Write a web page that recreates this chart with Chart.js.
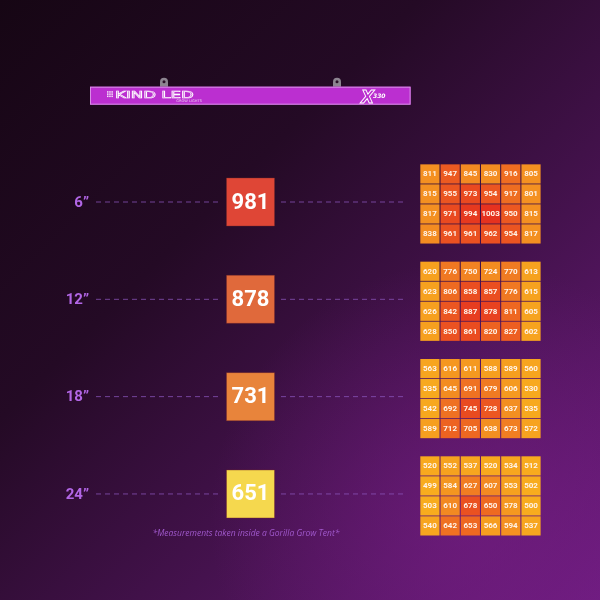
<!DOCTYPE html>
<html>
<head>
<meta charset="utf-8">
<script src="https://cdn.jsdelivr.net/npm/chart.js@4.4.1/dist/chart.umd.min.js"></script>
<style>
  html, body { margin: 0; padding: 0; background: #1a0818; }
  #wrap { width: 600px; height: 600px; }
</style>
</head>
<body>
<div id="wrap"><canvas id="chart" width="600" height="600"></canvas></div>
<script>
// hanging heights (inches) and the average PPFD at each
const depths = [6, 12, 18, 24];
const averages = [981, 878, 731, 651];
const depthLabels = ['6”', '12”', '18”', '24”'];

// 4 x 6 PPFD maps, one per height
const grid6 = [
  [811, 947, 845, 830, 916, 805],
  [815, 955, 973, 954, 917, 801],
  [817, 971, 994, 1003, 950, 815],
  [838, 961, 961, 962, 954, 817]
];
const grid12 = [
  [620, 776, 750, 724, 770, 613],
  [623, 806, 858, 857, 776, 615],
  [626, 842, 887, 878, 811, 605],
  [628, 850, 861, 820, 827, 602]
];
const grid18 = [
  [563, 616, 611, 588, 589, 560],
  [535, 645, 691, 679, 606, 530],
  [542, 692, 745, 728, 637, 535],
  [589, 712, 705, 638, 673, 572]
];
const grid24 = [
  [520, 552, 537, 520, 534, 512],
  [499, 584, 627, 607, 553, 502],
  [503, 610, 678, 650, 578, 500],
  [540, 642, 653, 566, 594, 537]
];
const grids = [grid6, grid12, grid18, grid24];

const footnote = '*Measurements taken inside a Gorilla Grow Tent*';

// layout
const pxPerInch = 16.22;
const gridLeft = 419.8;
const colPitch = 20.22;
const rowPitch = 20 / pxPerInch;
const cellSide = 19.2;
const boxX = 250.5;
const boxSide = 48;
const boxColors = ['#df4636', '#e0693b', '#e8843b', '#f5d84e'];

function mix(a, b, t) {
  const pa = a.match(/\w\w/g).map(h => parseInt(h, 16));
  const pb = b.match(/\w\w/g).map(h => parseInt(h, 16));
  return 'rgb(' + pa.map((v, i) => Math.round(v + (pb[i] - v) * t)).join(',') + ')';
}
function heat(t) {
  const stops = ['f8ac1e', 'f28722', 'ec5a21', 'e5321f'];
  const s = Math.min(Math.max(t, 0), 1) * 3;
  const i = Math.min(Math.floor(s), 2);
  return mix(stops[i], stops[i + 1], s - i);
}

const cells = [];
const cellColors = [];
grids.forEach((g, gi) => {
  const flat = g.flat();
  const lo = Math.min(...flat), hi = Math.max(...flat);
  g.forEach((row, r) => {
    row.forEach((v, c) => {
      cells.push({ x: gridLeft + (c + 0.5) * colPitch, y: depths[gi] + 0.12 + (r - 1.5) * rowPitch, v: v });
      const local = (v - lo) / (hi - lo);
      const global = (v - 500) / (1003 - 500);
      cellColors.push(heat(0.6 * local * local + 0.4 * global));
    });
  });
});

const lineSets = depths.map(d => ({
  type: 'line',
  data: [{ x: 96, y: d }, { x: 222, y: d }, { x: 250, y: null }, { x: 281, y: d }, { x: 407, y: d }],
  borderColor: 'rgba(140, 85, 190, 0.75)',
  borderWidth: 1,
  borderDash: [5, 4],
  pointRadius: 0,
  spanGaps: false
}));

const bgPlugin = {
  id: 'bg',
  beforeDraw(chart) {
    const ctx = chart.ctx;
    const g = ctx.createLinearGradient(0, 0, 600, 600);
    g.addColorStop(0, '#160614');
    g.addColorStop(0.35, '#240a25');
    g.addColorStop(0.65, '#45124e');
    g.addColorStop(1, '#6e1c80');
    ctx.save();
    ctx.fillStyle = g;
    ctx.fillRect(0, 0, chart.width, chart.height);
    const r = ctx.createRadialGradient(470, 520, 10, 470, 520, 260);
    r.addColorStop(0, 'rgba(120,30,135,0.55)');
    r.addColorStop(1, 'rgba(120,30,135,0)');
    ctx.fillStyle = r;
    ctx.fillRect(0, 0, chart.width, chart.height);
    ctx.restore();
  }
};

const lightPlugin = {
  id: 'light',
  afterDraw(chart) {
    const ctx = chart.ctx;
    const x = chart.scales.x, y = chart.scales.y;
    const left = x.getPixelForValue(90), right = x.getPixelForValue(410.6);
    const bottom = y.getPixelForValue(0), top = bottom - 18;
    ctx.save();
    // hooks
    [164, 337].forEach(hx => {
      const px = x.getPixelForValue(hx);
      ctx.fillStyle = '#8c8490';
      ctx.beginPath();
      ctx.moveTo(px - 4, top);
      ctx.lineTo(px - 4, top - 5);
      ctx.arc(px, top - 5, 4, Math.PI, 0);
      ctx.lineTo(px + 4, top);
      ctx.closePath();
      ctx.fill();
      ctx.fillStyle = '#2a1028';
      ctx.beginPath();
      ctx.arc(px, top - 5, 1.5, 0, Math.PI * 2);
      ctx.fill();
    });
    ctx.fillStyle = '#bb2fd0';
    ctx.fillRect(left, top, right - left, bottom - top);
    ctx.strokeStyle = '#d88ee6';
    ctx.lineWidth = 1;
    ctx.strokeRect(left + 0.5, top + 0.5, right - left - 1, bottom - top - 1);
    // logo
    ctx.fillStyle = '#f6e6fa';
    for (let i = 0; i < 3; i++) for (let j = 0; j < 3; j++) {
      ctx.fillRect(left + 17 + i * 2.2, top + 4.5 + j * 2.2, 1.5, 1.5);
    }
    ctx.save();
    ctx.translate(left + 25, top + 11.5);
    ctx.scale(1.75, 1);
    ctx.font = '9.5px "DejaVu Sans"';
    ctx.textBaseline = 'alphabetic';
    ctx.strokeStyle = '#ffffff';
    ctx.lineWidth = 0.6;
    ctx.strokeText('KIND LED', 0, 0);
    ctx.restore();
    ctx.font = '3.6px "DejaVu Sans"';
    ctx.fillStyle = '#e8c8f0';
    ctx.textAlign = 'right';
    ctx.fillText('GROW LIGHTS', left + 112, top + 15);
    ctx.font = 'italic bold 17px "DejaVu Sans"';
    ctx.textAlign = 'left';
    ctx.strokeStyle = '#ffffff';
    ctx.lineWidth = 0.9;
    ctx.strokeText('X', left + 271, top + 16);
    ctx.font = 'italic bold 6px "DejaVu Sans"';
    ctx.fillStyle = '#ffffff';
    ctx.fillText('330', left + 283, top + 11);
    ctx.restore();
  }
};

const textPlugin = {
  id: 'texts',
  afterDatasetsDraw(chart) {
    const ctx = chart.ctx;
    const x = chart.scales.x, y = chart.scales.y;
    ctx.save();
    ctx.textAlign = 'center';
    ctx.textBaseline = 'middle';
    // averages
    const boxMeta = chart.getDatasetMeta(4);
    ctx.fillStyle = '#ffffff';
    ctx.font = 'bold 22px Roboto';
    boxMeta.data.forEach((p, i) => ctx.fillText(String(averages[i]), p.x, p.y + 1));
    // cell values
    const cellMeta = chart.getDatasetMeta(5);
    ctx.fillStyle = '#fff4ea';
    ctx.font = 'bold 8px Roboto';
    cellMeta.data.forEach((p, i) => ctx.fillText(String(cells[i].v), p.x, p.y + 0.5));
    // heights
    ctx.textAlign = 'right';
    ctx.fillStyle = '#b266e6';
    ctx.font = 'bold 15px Roboto';
    depths.forEach((d, i) => ctx.fillText(depthLabels[i], x.getPixelForValue(89), y.getPixelForValue(d) + 1));
    // footnote
    ctx.textAlign = 'center';
    ctx.fillStyle = '#a058cc';
    ctx.font = 'italic 8.5px "Open Sans"';
    ctx.fillText(footnote, x.getPixelForValue(246), y.getPixelForValue(26.47));
    ctx.restore();
  }
};

new Chart(document.getElementById('chart'), {
  type: 'scatter',
  data: {
    datasets: [
      ...lineSets,
      {
        data: depths.map(d => ({ x: boxX, y: d })),
        pointStyle: 'rect',
        pointRadius: boxSide * Math.SQRT1_2,
        pointHoverRadius: boxSide * Math.SQRT1_2,
        pointBackgroundColor: boxColors,
        pointBorderColor: 'rgba(120,40,40,0.4)',
        pointBorderWidth: 1
      },
      {
        data: cells.map(c => ({ x: c.x, y: c.y })),
        pointStyle: 'rect',
        pointRadius: cellSide * Math.SQRT1_2,
        pointHoverRadius: cellSide * Math.SQRT1_2,
        pointBackgroundColor: cellColors,
        pointBorderWidth: 0
      }
    ]
  },
  options: {
    responsive: false,
    animation: false,
    events: [],
    layout: { padding: 0, autoPadding: false },
    plugins: { legend: { display: false }, tooltip: { enabled: false } },
    scales: {
      x: { type: 'linear', min: 0, max: 600, display: false },
      y: { type: 'linear', reverse: true, min: 6 - 202 / pxPerInch, max: 6 + 398 / pxPerInch, display: false }
    }
  },
  plugins: [bgPlugin, lightPlugin, textPlugin]
});
</script>
</body>
</html>
